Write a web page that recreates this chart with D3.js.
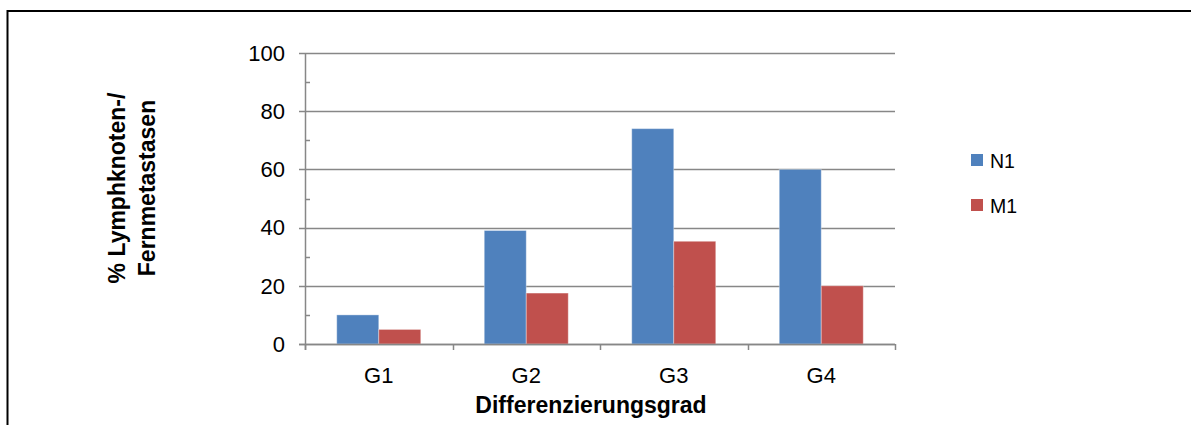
<!DOCTYPE html>
<html>
<head>
<meta charset="utf-8">
<script src="https://cdn.jsdelivr.net/npm/d3@7"></script>
<style>
  html, body { margin: 0; padding: 0; background: #fff; }
  svg { display: block; }
  text { font-family: "Liberation Sans", Arial, sans-serif; fill: #000; }
</style>
</head>
<body>
<svg id="chart" width="1191" height="425"></svg>
<script>
// Grading categories and the share of patients with lymph node (N1) and distant (M1) metastases
const categories = ["G1", "G2", "G3", "G4"];
const seriesNames = ["N1", "M1"];
const n1Values = [10, 39, 74, 60];
const m1Values = [5, 17.5, 35.3, 20];
const yTicks = [0, 20, 40, 60, 80, 100];
const yMinorTicks = [10, 30, 50, 70, 90];
const colors = { N1: "#4F81BD", M1: "#C0504D" };

const svg = d3.select("#chart");
const W = 1191, H = 425;

// chart frame (top and left edges)
svg.append("line").attr("x1", 7.5).attr("x2", W).attr("y1", 11).attr("y2", 11)
  .attr("stroke", "#000").attr("stroke-width", 2);
svg.append("line").attr("x1", 7.5).attr("x2", 7.5).attr("y1", 10).attr("y2", H)
  .attr("stroke", "#000").attr("stroke-width", 2);

const plot = { left: 305, right: 895, top: 53, bottom: 344 };

const x = d3.scaleBand().domain(categories).range([plot.left, plot.right]).paddingInner(0).paddingOuter(0);
const y = d3.scaleLinear().domain([0, 100]).range([plot.bottom, plot.top]);
const groupWidth = 84;
const xs = d3.scaleBand().domain(seriesNames).range([0, groupWidth]).padding(0);

const gridColor = "#878787";

// horizontal gridlines (extend left as the outer major ticks)
svg.append("g").selectAll("line").data(yTicks).join("line")
  .attr("x1", plot.left - 6).attr("x2", plot.right)
  .attr("y1", d => Math.round(y(d)) + 0.5).attr("y2", d => Math.round(y(d)) + 0.5)
  .attr("stroke", gridColor).attr("stroke-width", 1.5);

// minor ticks inside the value axis
svg.append("g").selectAll("line").data(yMinorTicks).join("line")
  .attr("x1", plot.left).attr("x2", plot.left + 5)
  .attr("y1", d => Math.round(y(d)) + 0.5).attr("y2", d => Math.round(y(d)) + 0.5)
  .attr("stroke", gridColor).attr("stroke-width", 1.5);

// value axis line
svg.append("line")
  .attr("x1", plot.left + 0.5).attr("x2", plot.left + 0.5)
  .attr("y1", plot.top).attr("y2", plot.bottom + 6)
  .attr("stroke", gridColor).attr("stroke-width", 1.5);

// category tick marks on the band boundaries
const boundaries = categories.map(c => x(c)).concat([plot.right]);
svg.append("g").selectAll("line").data(boundaries).join("line")
  .attr("x1", d => Math.round(d) + 0.5).attr("x2", d => Math.round(d) + 0.5)
  .attr("y1", plot.bottom).attr("y2", plot.bottom + 6)
  .attr("stroke", gridColor).attr("stroke-width", 1.5);

// y tick labels
svg.append("g").selectAll("text").data(yTicks).join("text")
  .attr("x", 285).attr("y", d => y(d))
  .attr("dy", "0.35em")
  .attr("text-anchor", "end")
  .style("font-size", "22px")
  .text(d => d);

// bars
const rows = categories.map((c, i) => ({ cat: c, N1: n1Values[i], M1: m1Values[i] }));
const groups = svg.append("g").selectAll("g").data(rows).join("g")
  .attr("transform", d => `translate(${x(d.cat) + (x.bandwidth() - groupWidth) / 2},0)`);
groups.selectAll("rect")
  .data(d => seriesNames.map(s => ({ s, v: d[s] })))
  .join("rect")
  .attr("x", d => xs(d.s))
  .attr("y", d => y(d.v))
  .attr("width", xs.bandwidth())
  .attr("height", d => y(0) - y(d.v))
  .attr("fill", d => colors[d.s])
  .attr("stroke", "rgba(255,255,255,0.35)")
  .attr("stroke-width", 1);

// redraw the baseline over the bars
svg.append("line")
  .attr("x1", plot.left - 6).attr("x2", plot.right)
  .attr("y1", Math.round(y(0)) + 0.5).attr("y2", Math.round(y(0)) + 0.5)
  .attr("stroke", gridColor).attr("stroke-width", 1.5);

// category labels
svg.append("g").selectAll("text").data(categories).join("text")
  .attr("x", d => x(d) + x.bandwidth() / 2)
  .attr("y", 383)
  .attr("text-anchor", "middle")
  .style("font-size", "22px")
  .text(d => d);

// x axis title
svg.append("text")
  .attr("x", 591).attr("y", 413)
  .attr("text-anchor", "middle")
  .style("font-size", "23px").style("font-weight", "bold")
  .text("Differenzierungsgrad");

// y axis title (two lines, rotated)
const yTitle = svg.append("text")
  .attr("transform", "translate(0,188) rotate(-90)")
  .attr("text-anchor", "middle")
  .style("font-size", "23px").style("font-weight", "bold");
yTitle.append("tspan").attr("x", 0).attr("y", 125).text("% Lymphknoten-/");
yTitle.append("tspan").attr("x", 0).attr("y", 155).text("Fernmetastasen");

// legend
const legend = svg.append("g").selectAll("g").data(seriesNames).join("g")
  .attr("transform", (d, i) => `translate(971,${154 + i * 45})`);
legend.append("rect").attr("width", 12).attr("height", 12).attr("fill", d => colors[d]);
legend.append("text").attr("x", 19).attr("y", 13.5)
  .style("font-size", "19.5px")
  .text(d => d);
</script>
</body>
</html>
